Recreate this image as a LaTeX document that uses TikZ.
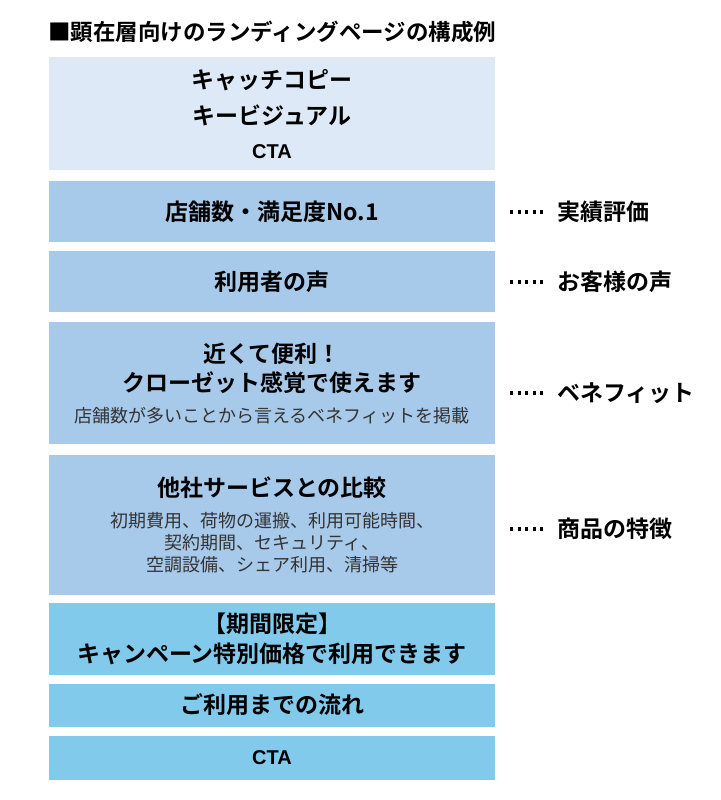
\documentclass[tikz,border=0pt]{standalone}
\usepackage{fontspec}
\setmainfont{Noto Sans CJK JP}
\newfontfamily\jpb{Noto Sans CJK JP Bold}
\newfontfamily\lsb{Liberation Sans Bold}
\definecolor{cLight}{HTML}{DDE9F6}
\definecolor{cMid}{HTML}{A7C9EA}
\definecolor{cCyan}{HTML}{82CAEB}
\tikzset{
  big/.style={font=\jpb\fontsize{23}{26}\selectfont, inner sep=0pt},
  small/.style={font=\fontsize{18}{21}\selectfont, text=black!80, inner sep=0pt},
  side/.style={font=\jpb\fontsize{23}{26}\selectfont, anchor=west, inner sep=0pt},
  cta/.style={font=\lsb\fontsize{20}{24}\selectfont, inner sep=0pt},
  dots/.style={line width=3.4pt, dash pattern=on 3.4pt off 4.1pt},
}
\begin{document}
\begin{tikzpicture}[x=1pt,y=-1pt]
\useasboundingbox (0,0) rectangle (720,800);
\node[font=\jpb\fontsize{22.5}{24}\selectfont, anchor=west, inner sep=0pt] (title) at (48,32) {■顕在層向けのランディングページの構成例};
\fill[cLight] (49,57) rectangle (495,170);
\fill[cMid] (49,181) rectangle (495,242);
\fill[cMid] (49,251) rectangle (495,312);
\fill[cMid] (49,322) rectangle (495,444);
\fill[cMid] (49,455) rectangle (495,595);
\fill[cCyan] (49,603) rectangle (495,675);
\fill[cCyan] (49,684) rectangle (495,727);
\fill[cCyan] (49,736) rectangle (495,780);
\node[big] (a1) at (272,80) {キャッチコピー};
\node[big] (a2) at (272,115) {キービジュアル};
\node[cta] (a3) at (272,152) {CTA};
\node[big] (b) at (272,212) {店舗数・満足度No.1};
\node[big] (c) at (272,282) {利用者の声};
\node[big] (d1) at (272,354) {近くて便利！};
\node[big] (d2) at (272,383) {クローゼット感覚で使えます};
\node[small] (d3) at (272,416) {店舗数が多いことから言えるベネフィットを掲載};
\node[big] (e1) at (272,488) {他社サービスとの比較};
\node[small] (e2) at (272,521) {初期費用、荷物の運搬、利用可能時間、};
\node[small] (e3) at (272,543) {契約期間、セキュリティ、};
\node[small] (e4) at (272,565) {空調設備、シェア利用、清掃等};
\node[big] (f1) at (272,624) {【期間限定】};
\node[big] (f2) at (272,654) {キャンペーン特別価格で利用できます};
\node[big] (g) at (272,705) {ご利用までの流れ};
\node[cta] (h) at (272,758) {CTA};
\node[side] (s1) at (557,212) {実績評価};
\node[side] (s2) at (557,282) {お客様の声};
\node[side] (s3) at (557,393) {ベネフィット};
\node[side] (s4) at (557,529) {商品の特徴};
\foreach \s/\y in {s1/212,s2/282,s3/393,s4/529}{
  \coordinate (p\s) at (510,\y);
  \draw[dots] (p\s) -- ([xshift=-10pt]\s.west);
}
\end{tikzpicture}
\end{document}
